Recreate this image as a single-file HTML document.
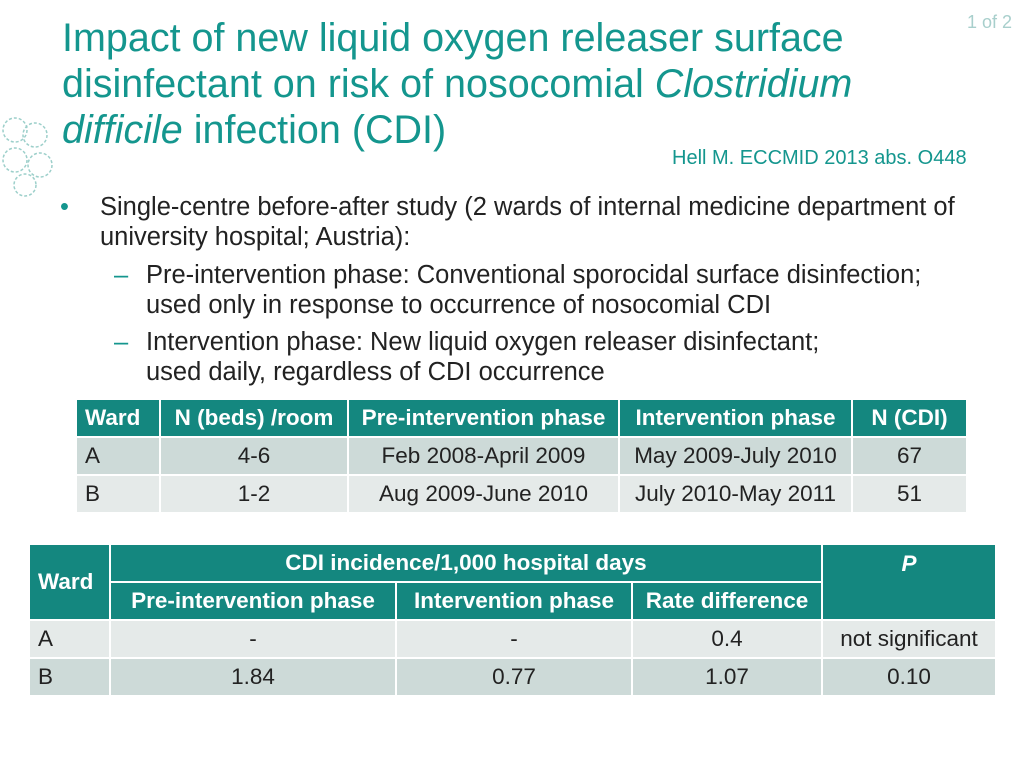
<!DOCTYPE html>
<html><head><meta charset="utf-8"><style>
body{margin:0;width:1024px;height:768px;background:#fff;position:relative;overflow:hidden;font-family:"Liberation Sans",sans-serif}
.a{position:absolute;white-space:nowrap}
.c{position:absolute;box-sizing:border-box;font-size:22.5px;color:#222;display:flex;align-items:center;justify-content:center;border-right:2px solid #fff}
.h{background:#14877f;color:#fff;font-weight:bold}
.ra{background:#cddad8}.rb{background:#e5eae9}
.l{justify-content:flex-start;padding-left:8px}
</style></head><body>
<svg class="a" style="left:0;top:110px" width="60" height="90">
<g fill="none" stroke="#9ccfca" stroke-width="1.5">
<circle cx="15" cy="20" r="12" stroke-dasharray="3 2"/><circle cx="35" cy="25" r="12" stroke-dasharray="3 2"/><circle cx="15" cy="50" r="12" stroke-dasharray="3 2"/><circle cx="40" cy="55" r="12" stroke-dasharray="3 2"/><circle cx="25" cy="75" r="11" stroke-dasharray="3 2"/></g></svg>
<div class="a" style="left:62px;top:15px;font-size:39.5px;line-height:46px;color:#14968e">Impact of new liquid oxygen releaser surface<br>disinfectant on risk of nosocomial <i>Clostridium</i><br><i>difficile</i> infection (CDI)</div>
<div class="a" style="left:967px;top:12px;font-size:18px;color:#a8cfcc">1 of 2</div>
<div class="a" style="left:672px;top:147px;font-size:20px;color:#14968e">Hell M. ECCMID 2013 abs. O448</div>
<div class="a" style="left:0;top:192px;font-size:25.5px;line-height:30px;color:#222">
<div style="position:relative;padding-left:100px"><span style="position:absolute;left:60px;color:#14968e">•</span>Single-centre before-after study (2 wards of internal medicine department of</div>
<div style="padding-left:100px">university hospital; Austria):</div>
<div style="position:relative;padding-left:146px;margin-top:8px"><span style="position:absolute;left:114px;color:#14968e">–</span>Pre-intervention phase: Conventional sporocidal surface disinfection;</div>
<div style="padding-left:146px">used only in response to occurrence of nosocomial CDI</div>
<div style="position:relative;padding-left:146px;margin-top:7px"><span style="position:absolute;left:114px;color:#14968e">–</span>Intervention phase: New liquid oxygen releaser disinfectant;</div>
<div style="padding-left:146px">used daily, regardless of CDI occurrence</div>
</div>
<div>
<div class="c h l" style="left:77px;top:400px;width:84px;height:36px">Ward</div>
<div class="c h" style="left:161px;top:400px;width:188px;height:36px">N (beds) /room</div>
<div class="c h" style="left:349px;top:400px;width:271px;height:36px">Pre-intervention phase</div>
<div class="c h" style="left:620px;top:400px;width:233px;height:36px">Intervention phase</div>
<div class="c h" style="left:853px;top:400px;width:113px;height:36px;border:0">N (CDI)</div>
<div class="c ra l" style="left:77px;top:438px;width:84px;height:36px">A</div>
<div class="c ra" style="left:161px;top:438px;width:188px;height:36px">4-6</div>
<div class="c ra" style="left:349px;top:438px;width:271px;height:36px">Feb 2008-April 2009</div>
<div class="c ra" style="left:620px;top:438px;width:233px;height:36px">May 2009-July 2010</div>
<div class="c ra" style="left:853px;top:438px;width:113px;height:36px;border:0">67</div>
<div class="c rb l" style="left:77px;top:476px;width:84px;height:36px">B</div>
<div class="c rb" style="left:161px;top:476px;width:188px;height:36px">1-2</div>
<div class="c rb" style="left:349px;top:476px;width:271px;height:36px">Aug 2009-June 2010</div>
<div class="c rb" style="left:620px;top:476px;width:233px;height:36px">July 2010-May 2011</div>
<div class="c rb" style="left:853px;top:476px;width:113px;height:36px;border:0">51</div>
</div>
<div>
<div class="c h l" style="left:30px;top:545px;width:81px;height:74px">Ward</div>
<div class="c h" style="left:111px;top:545px;width:712px;height:38px;border-bottom:2px solid #fff">CDI incidence/1,000 hospital days</div>
<div class="c h" style="left:823px;top:545px;width:172px;height:74px;border:0;align-items:flex-start;padding-top:6px"><i>P</i></div>
<div class="c h" style="left:111px;top:583px;width:286px;height:36px">Pre-intervention phase</div>
<div class="c h" style="left:397px;top:583px;width:236px;height:36px">Intervention phase</div>
<div class="c h" style="left:633px;top:583px;width:190px;height:36px">Rate difference</div>
<div class="c rb l" style="left:30px;top:621px;width:81px;height:36px">A</div>
<div class="c rb" style="left:111px;top:621px;width:286px;height:36px">-</div>
<div class="c rb" style="left:397px;top:621px;width:236px;height:36px">-</div>
<div class="c rb" style="left:633px;top:621px;width:190px;height:36px">0.4</div>
<div class="c rb" style="left:823px;top:621px;width:172px;height:36px;border:0">not significant</div>
<div class="c ra l" style="left:30px;top:659px;width:81px;height:36px">B</div>
<div class="c ra" style="left:111px;top:659px;width:286px;height:36px">1.84</div>
<div class="c ra" style="left:397px;top:659px;width:236px;height:36px">0.77</div>
<div class="c ra" style="left:633px;top:659px;width:190px;height:36px">1.07</div>
<div class="c ra" style="left:823px;top:659px;width:172px;height:36px;border:0">0.10</div>
</div>
</body></html>
